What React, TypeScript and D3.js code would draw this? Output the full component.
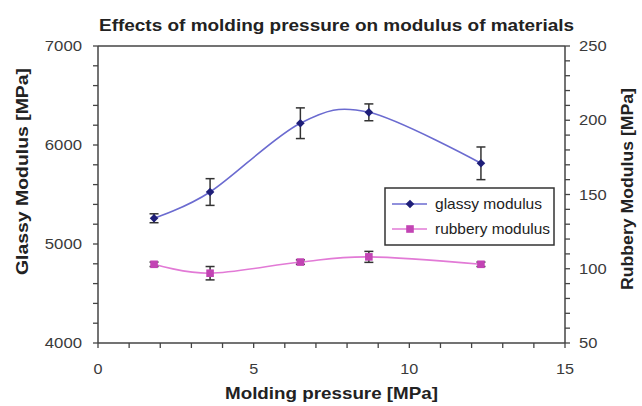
import React from 'react';
import * as d3 from 'd3';

const pressure = [1.8, 3.6, 6.5, 8.7, 12.3];
const glassy = [5260, 5525, 6220, 6330, 5815];
const glassyErr = [45, 135, 155, 85, 165];
const rubbery = [103, 97, 104.5, 108, 103];
const rubberyErr = [1.5, 4.5, 1.5, 3.7, 1.5];
const xTicks = [0, 5, 10, 15];
const leftTicks = [4000, 5000, 6000, 7000];
const rightTicks = [50, 100, 150, 200, 250];
const seriesNames = ['glassy modulus', 'rubbery modulus'];
const titleText = 'Effects of molding pressure on modulus of materials';
const xTitle = 'Molding pressure [MPa]';
const leftTitle = 'Glassy Modulus [MPa]';
const rightTitle = 'Rubbery Modulus [MPa]';

const W = 642, H = 406;
const L = 98, R = 565, T = 46, B = 343;
const FONT = '"Liberation Sans", Arial, sans-serif';
const GLASSY_LINE = '#6b6bd0';
const GLASSY_MARK = '#1e1e78';
const RUBBER_LINE = '#e27ad6';
const RUBBER_MARK = '#c244b4';
const AXIS = '#444';
const TICK_TEXT = '#3a3a3a';

export default function App() {
  const x = d3.scaleLinear().domain([0, 15]).range([L, R]);
  const yL = d3.scaleLinear().domain([4000, 7000]).range([B, T]);
  const yR = d3.scaleLinear().domain([50, 250]).range([B, T]);

  const line = (ys: number[], yScale: d3.ScaleLinear<number, number>) =>
    d3.line<number>()
      .x((_, i) => x(pressure[i]))
      .y((v) => yScale(v))
      .curve(d3.curveCardinal.tension(0))(ys) || '';

  const xMinor = d3.range(0, 15.01, 1);
  const lMinor = d3.range(4000, 7000.1, 200);
  const rMinor = d3.range(50, 250.1, 10);

  const diamond = (cx: number, cy: number, s: number) =>
    `M${cx},${cy - s}L${cx + s},${cy}L${cx},${cy + s}L${cx - s},${cy}Z`;

  const errBars = (vals: number[], errs: number[], yScale: d3.ScaleLinear<number, number>, key: string) =>
    vals.map((v, i) => {
      const cx = x(pressure[i]);
      const y1 = yScale(v + errs[i]);
      const y2 = yScale(v - errs[i]);
      return (
        <g key={key + i} stroke="#333" strokeWidth={1.5}>
          <line x1={cx} x2={cx} y1={y1} y2={y2} />
          <line x1={cx - 4.5} x2={cx + 4.5} y1={y1} y2={y1} />
          <line x1={cx - 4.5} x2={cx + 4.5} y1={y2} y2={y2} />
        </g>
      );
    });

  const legX = 385, legY = 188, legW = 169, legH = 57;
  const legRows = [legY + 16, legY + 41];

  return (
    <svg width={W} height={H} style={{ position: 'absolute', left: 0, top: 0, background: '#fff' }} fontFamily={FONT}>
      <rect x={0} y={0} width={W} height={H} fill="#fff" />
      {/* title */}
      <text x={336.5} y={31} textAnchor="middle" fontWeight="bold" fontSize={17} fill="#222"
        textLength={475} lengthAdjust="spacingAndGlyphs">{titleText}</text>

      {/* frame */}
      <line x1={L} x2={R} y1={T} y2={T} stroke={AXIS} strokeWidth={1.3} />
      <line x1={L} x2={R} y1={B} y2={B} stroke={AXIS} strokeWidth={1.5} />
      <line x1={L} x2={L} y1={T} y2={B} stroke={AXIS} strokeWidth={1.5} />
      <line x1={R} x2={R} y1={T} y2={B} stroke={AXIS} strokeWidth={1.5} />

      {/* ticks */}
      {xMinor.map((t) => (
        <line key={'xt' + t} x1={x(t)} x2={x(t)} y1={B} y2={B + 5} stroke={AXIS} strokeWidth={1.3} />
      ))}
      {lMinor.map((t) => (
        <line key={'lt' + t} x1={L - 5} x2={L} y1={yL(t)} y2={yL(t)} stroke={AXIS} strokeWidth={1.3} />
      ))}
      {rMinor.map((t) => (
        <line key={'rt' + t} x1={R} x2={R + 5} y1={yR(t)} y2={yR(t)} stroke={AXIS} strokeWidth={1.3} />
      ))}

      {/* tick labels */}
      {xTicks.map((t) => (
        <text key={'xl' + t} x={x(t)} y={374} textAnchor="middle" fontSize={15} fill={TICK_TEXT}
          textLength={String(t).length * 9} lengthAdjust="spacingAndGlyphs">{t}</text>
      ))}
      {leftTicks.map((t) => (
        <text key={'ll' + t} x={82} y={yL(t) + 5} textAnchor="end" fontSize={15} fill={TICK_TEXT}
          textLength={String(t).length * 9.3} lengthAdjust="spacingAndGlyphs">{t}</text>
      ))}
      {rightTicks.map((t) => (
        <text key={'rl' + t} x={579} y={yR(t) + 5} textAnchor="start" fontSize={15} fill={TICK_TEXT}
          textLength={String(t).length * 9.2} lengthAdjust="spacingAndGlyphs">{t}</text>
      ))}

      {/* axis titles */}
      <text x={331.5} y={399} textAnchor="middle" fontWeight="bold" fontSize={17} fill="#222"
        textLength={213} lengthAdjust="spacingAndGlyphs">{xTitle}</text>
      <text transform={`translate(28,171.5) rotate(-90)`} textAnchor="middle" fontWeight="bold" fontSize={17} fill="#222"
        textLength={207} lengthAdjust="spacingAndGlyphs">{leftTitle}</text>
      <text transform={`translate(633,189) rotate(-90)`} textAnchor="middle" fontWeight="bold" fontSize={17} fill="#222"
        textLength={202} lengthAdjust="spacingAndGlyphs">{rightTitle}</text>

      {/* series lines */}
      <path d={line(glassy, yL)} fill="none" stroke={GLASSY_LINE} strokeWidth={1.6} />
      <path d={line(rubbery, yR)} fill="none" stroke={RUBBER_LINE} strokeWidth={1.6} />

      {/* error bars */}
      {errBars(glassy, glassyErr, yL, 'ge')}
      {errBars(rubbery, rubberyErr, yR, 're')}

      {/* markers */}
      {glassy.map((v, i) => (
        <path key={'gm' + i} d={diamond(x(pressure[i]), yL(v), 4.3)} fill={GLASSY_MARK} />
      ))}
      {rubbery.map((v, i) => (
        <rect key={'rm' + i} x={x(pressure[i]) - 3.8} y={yR(v) - 3.8} width={7.6} height={7.6} fill={RUBBER_MARK} />
      ))}

      {/* legend */}
      <rect x={legX} y={legY} width={legW} height={legH} fill="#fff" stroke="#333" strokeWidth={1.5} />
      <line x1={392} x2={427} y1={legRows[0]} y2={legRows[0]} stroke={GLASSY_LINE} strokeWidth={1.6} />
      <path d={diamond(410, legRows[0], 4.3)} fill={GLASSY_MARK} />
      <line x1={392} x2={427} y1={legRows[1]} y2={legRows[1]} stroke={RUBBER_LINE} strokeWidth={1.6} />
      <rect x={410 - 3.8} y={legRows[1] - 3.8} width={7.6} height={7.6} fill={RUBBER_MARK} />
      <text x={435} y={legRows[0] + 5} fontSize={15} fill="#222" textLength={107} lengthAdjust="spacingAndGlyphs">{seriesNames[0]}</text>
      <text x={435} y={legRows[1] + 5} fontSize={15} fill="#222" textLength={115} lengthAdjust="spacingAndGlyphs">{seriesNames[1]}</text>
    </svg>
  );
}
